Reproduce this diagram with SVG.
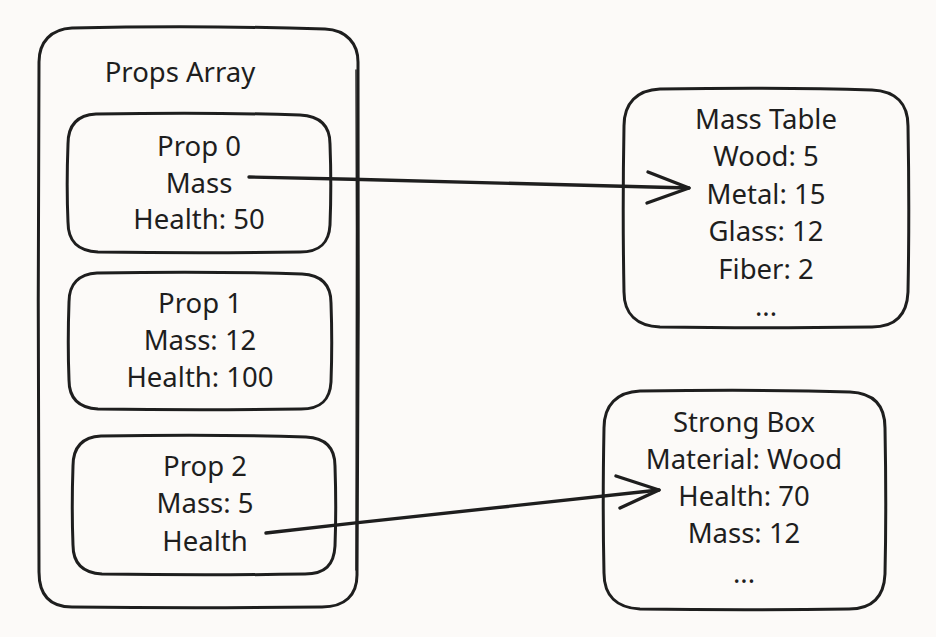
<svg xmlns="http://www.w3.org/2000/svg" width="936" height="637" viewBox="0 0 936 637">
<style>
.box{fill:none;stroke:#1e1e1e;stroke-width:3;stroke-linecap:round;stroke-linejoin:round}
.box2{fill:none;stroke:#1e1e1e;stroke-width:1.4;stroke-linecap:round}
.t{font-family:"Noto Sans","Open Sans",sans-serif;font-size:27.5px;fill:#1e1e1e;text-anchor:middle;dominant-baseline:central}
.arr{fill:none;stroke:#1e1e1e;stroke-width:3.4;stroke-linecap:round;stroke-linejoin:round}
</style>
<rect width="936" height="637" fill="#fcfaf8"/>
<g id="props-array">
<path class="box" d="M72 28 C160 26 260 27 325 29 C347 30 358 44 358 62 C359 220 358 420 357 575 C357 595 345 607 322 607 C240 608 150 608 72 607 C50 607 39 595 39 572 C38 420 38 220 39 62 C39 42 51 29 72 28 Z"/>
<path class="box2" d="M356 70 C357 240 356 440 356 570"/>
<text class="t" x="180" y="71">Props Array</text>
</g>
<g id="prop0">
<path class="box" d="M96 114 C160 113 240 113 300 115 C320 116 330 126 330 144 C331 170 331 200 330 225 C329 243 320 252 300 252 C240 253 160 253 98 252 C78 251 68 242 68 222 C67 200 67 170 68 144 C68 125 78 115 96 114 Z"/>
<text class="t" x="199" y="145">Prop 0</text>
<text class="t" x="199" y="182">Mass</text>
<text class="t" x="199" y="218">Health: 50</text>
</g>
<g id="prop1">
<path class="box" d="M97 273 C160 272 240 272 302 274 C321 275 331 285 331 303 C332 330 332 355 331 382 C330 400 321 409 301 409 C240 410 160 410 98 409 C79 408 69 399 69 380 C68 355 68 330 69 302 C69 284 79 274 97 273 Z"/>
<text class="t" x="200" y="302">Prop 1</text>
<text class="t" x="200" y="339">Mass: 12</text>
<text class="t" x="200" y="376">Health: 100</text>
</g>
<g id="prop2">
<path class="box" d="M101 436 C165 435 245 435 306 437 C326 438 335 448 335 466 C336 495 336 520 335 546 C334 565 325 574 305 574 C245 575 165 575 102 574 C83 573 73 564 73 545 C72 520 72 495 73 466 C73 447 83 437 101 436 Z"/>
<text class="t" x="205" y="465">Prop 2</text>
<text class="t" x="205" y="502">Mass: 5</text>
<text class="t" x="205" y="540">Health</text>
</g>
<g id="mass-table">
<path class="box" d="M660 89 C730 88 810 88 872 90 C896 91 908 104 908 126 C909 180 909 240 908 292 C907 315 895 327 872 327 C800 328 720 328 660 327 C637 326 624 314 624 292 C623 240 623 180 624 126 C624 103 637 90 660 89 Z"/>
<text class="t" x="766" y="118">Mass Table</text>
<text class="t" x="766" y="155">Wood: 5</text>
<text class="t" x="766" y="193">Metal: 15</text>
<text class="t" x="766" y="230">Glass: 12</text>
<text class="t" x="766" y="268">Fiber: 2</text>
<text class="t" x="766" y="305">...</text>
</g>
<g id="strong-box">
<path class="box" d="M640 391 C710 390 790 390 850 392 C873 393 885 405 885 428 C886 480 886 530 885 574 C884 597 872 609 849 609 C780 610 710 610 640 609 C617 608 604 596 604 573 C603 530 603 480 604 428 C604 405 617 392 640 391 Z"/>
<text class="t" x="744" y="421">Strong Box</text>
<text class="t" x="744" y="458">Material: Wood</text>
<text class="t" x="744" y="495">Health: 70</text>
<text class="t" x="744" y="532">Mass: 12</text>
<text class="t" x="744" y="572">...</text>
</g>
<g id="connectors">
<path class="arr" d="M249 177 C400 180 560 185 689 188"/>
<path class="arr" d="M648 172 L689 188 L647 203"/>
<path class="arr" d="M266 533 C400 518 540 502 659 490"/>
<path class="arr" d="M616 476 L659 490 L620 508"/>
</g>
</svg>
